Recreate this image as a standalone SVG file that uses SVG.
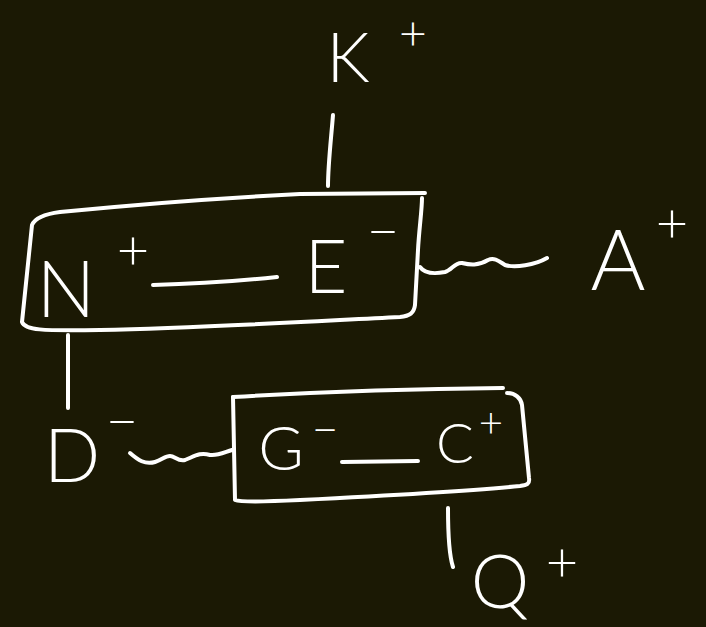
<svg xmlns="http://www.w3.org/2000/svg" width="706" height="627" viewBox="0 0 706 627">
  <style>
    .s { fill: none; stroke: #ffffff; stroke-width: 4; stroke-linecap: round; stroke-linejoin: round; }
    .t { fill: #ffffff; font-family: Lato, "Liberation Sans", "DejaVu Sans", sans-serif; font-weight: 300; text-anchor: middle; }
  </style>
  <rect x="0" y="0" width="706" height="627" fill="#1b1904"/>

  <g id="connectors">
    <path class="s" d="M333,115 C331,140 328,165 328,186"/>
    <path class="s" d="M153,285 C200,284 240,281 277,277"/>
    <path class="s" d="M420,267 C425,274 435,274 445,272 C452,270 455,262 462,263 C470,265 478,266 488,260 C495,257 500,262 505,265 C515,268 535,265 547,258"/>
    <path class="s" d="M68,335 L68,408"/>
    <path class="s" d="M130,453 C138,460 145,465 155,462 C162,460 165,456 170,456 C175,456 178,462 185,460 C195,456 200,452 210,455 C218,456 225,452 232,450"/>
    <path class="s" d="M342,462 L418,461"/>
    <path class="s" d="M448,508 C448,530 449,555 453,567"/>
  </g>

  <g id="node-K">
    <text class="t" x="348" y="82" font-size="68">K<tspan x="413" y="50" font-size="48">+</tspan></text>
  </g>

  <g id="node-NE">
    <path class="s" d="M425,193 L300,194 C200,199 110,207 60,212 C45,214 35,218 32,225 L22,322 C25,330 40,331 100,330 C200,328 300,322 400,317 C410,316 414,313 415,305 L418,250 C419,230 422,210 422,198"/>
    <text class="t" x="66" y="317" font-size="78">N<tspan x="133" y="270" font-size="56">+</tspan></text>
    <text class="t" x="326" y="293" font-size="74">E<tspan x="383" y="251" font-size="56">−</tspan></text>
  </g>

  <g id="node-A">
    <text class="t" x="618" y="290" font-size="84">A<tspan x="672" y="243" font-size="56">+</tspan></text>
  </g>

  <g id="node-D">
    <text class="t" x="72" y="482" font-size="74">D<tspan x="122" y="441" font-size="56">−</tspan></text>
  </g>

  <g id="node-GC">
    <path class="s" d="M233,397 C300,393 400,389 503,388"/>
    <path class="s" d="M233,397 L235,500 C240,502 260,502 300,500 C400,495 480,490 520,486 C527,485 530,484 529,478 L522,405 C521,398 515,393 507,393"/>
    <text class="t" x="281" y="470" font-size="62">G<tspan x="325" y="445" font-size="46">−</tspan></text>
    <text class="t" x="455" y="463" font-size="56">C<tspan x="491" y="437" font-size="42">+</tspan></text>
  </g>

  <g id="node-Q">
    <text class="t" x="500" y="608" font-size="74">Q<tspan x="562" y="582" font-size="56">+</tspan></text>
  </g>
</svg>
